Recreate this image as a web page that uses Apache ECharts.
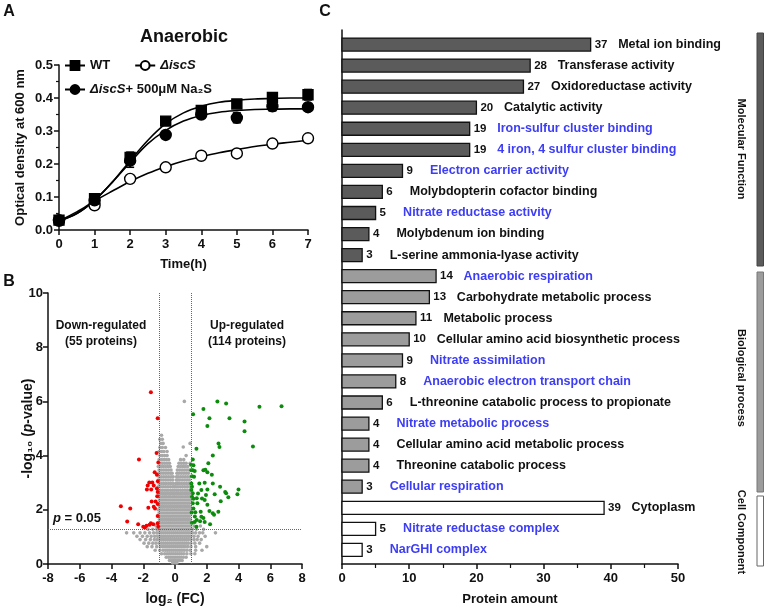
<!DOCTYPE html>
<html><head><meta charset="utf-8">
<script src="https://cdn.jsdelivr.net/npm/echarts@6/dist/echarts.min.js"></script>
<style>html,body{margin:0;padding:0;background:#fff}#c{width:767px;height:609px}</style>
</head><body><div id="c"></div><script>
// ---------- Panel A: growth curves ----------
const timeH = [0,1,2,3,4,5,6,7];
const odWT   = [0.030,0.095,0.220,0.330,0.362,0.382,0.402,0.410];
const odIscS = [0.030,0.075,0.155,0.190,0.225,0.232,0.262,0.278];
const odNa2S = [0.028,0.090,0.210,0.288,0.350,0.340,0.375,0.372];
const errWT   = [0.012,0.008,0.016,0.006,0.008,0.006,0.008,0.016];
const errIscS = [0.005,0.006,0.004,0.004,0.004,0.004,0.004,0.005];
const errNa2S = [0.010,0.006,0.020,0.005,0.008,0.015,0.014,0.006];
const fitTime = [0,0.5,1,1.5,2,2.5,3,3.5,4,4.5,5,5.5,6,6.5,7];
const fitWT   = [0.028,0.050,0.090,0.145,0.210,0.272,0.322,0.355,0.375,0.387,0.393,0.397,0.399,0.400,0.400];
const fitNa2S = [0.028,0.050,0.090,0.145,0.205,0.262,0.302,0.330,0.347,0.357,0.362,0.365,0.366,0.367,0.367];
const fitIscS = [0.028,0.055,0.088,0.118,0.147,0.172,0.192,0.209,0.222,0.234,0.244,0.253,0.260,0.266,0.272];

// ---------- Panel B: volcano ----------
const redPts = [[-1.52,6.34],[-1.09,5.38],[-1.16,4.10],[-2.27,3.86],[-1.05,3.75],[-1.28,3.39],[-1.14,3.29],
 [-1.62,3.01],[-1.43,3.01],[-1.72,2.90],[-1.34,2.90],[-1.77,2.75],[-1.50,2.75],[-1.14,2.79],[-1.09,2.66],
 [-1.47,2.31],[-1.22,2.31],[-1.68,2.08],[-1.34,2.11],[-3.41,2.13],[-2.82,2.05],[-1.09,2.21],[-1.26,2.05],
 [-1.09,1.77],[-3.01,1.57],[-2.32,1.47],[-1.52,1.50],[-1.37,1.47],[-2.00,1.37],[-1.79,1.41],[-1.09,1.50],
 [-1.05,1.37],[-1.90,1.35],[-1.60,1.45],[-1.12,2.50],[-1.08,3.05]];
const greenPts = [[2.67,6.00],[3.22,5.92],[1.79,5.72],[1.14,5.53],[2.17,5.38],[3.43,5.38],[2.04,5.09],[4.38,5.26],
 [4.38,4.90],[5.32,5.80],[6.71,5.82],[4.91,4.34],[2.74,4.45],[2.80,4.32],[1.35,4.25],[2.38,4.00],[1.12,3.86],
 [2.10,3.72],[1.01,3.66],[1.16,3.64],[1.24,3.43],[1.12,3.46],[1.79,3.46],[1.91,3.48],[2.04,3.39],[2.32,3.29],
 [1.20,3.22],[1.53,2.97],[1.87,3.00],[2.38,2.97],[2.84,2.85],[4.00,2.75],[3.16,2.66],[3.22,2.61],[1.03,2.73],
 [1.12,2.61],[1.66,2.73],[2.04,2.75],[2.50,2.57],[3.93,2.57],[3.36,2.46],[1.16,2.41],[1.37,2.43],[1.70,2.42],
 [1.87,2.36],[2.88,2.32],[1.12,2.24],[1.41,2.24],[2.04,2.19],[2.17,1.96],[2.38,1.87],[2.46,1.82],[2.73,1.93],
 [1.28,1.91],[1.62,1.93],[1.66,1.74],[1.79,1.70],[1.37,1.62],[1.58,1.58],[1.07,1.52],[1.24,1.55],[2.21,1.47],
 [1.87,1.55],[1.35,1.37],[1.03,3.46],[1.07,3.24],[1.03,2.97],[1.07,2.85],[1.07,2.48],[1.16,2.05],[1.05,1.90],
 [1.45,2.60],[1.95,2.55],[1.25,1.75]];
const grayRows = [
 [6.00,[0.59]],[4.75,[-0.85]],[4.60,[-0.95,-0.8]],[4.45,[-0.9,-0.75,0.95]],[4.32,[0.52]],
 [4.30,[-0.95,-0.8,-0.6]],[4.15,[-1.0,-0.85,-0.7,-0.5]],[4.00,[-0.95,-0.8,-0.65,-0.5,0.7]],
 [3.85,[-1.0,-0.85,-0.7,-0.55,-0.4,0.35,0.55]],
 [3.72,[-0.95,-0.8,-0.65,-0.5,-0.35,0.25,0.4,0.55,0.7,0.95]],
 [3.60,[-1.05,-0.9,-0.75,-0.6,-0.45,-0.3,0.2,0.35,0.5,0.65,0.8]],
 [3.47,[-1.0,-0.85,-0.7,-0.55,-0.4,-0.25,0.15,0.3,0.45,0.6,0.75,0.9]],
 [3.35,[-1.05,-0.9,-0.75,-0.6,-0.45,-0.3,-0.18,0.12,0.25,0.4,0.55,0.7,0.85]],
 [3.22,[-1.0,-0.85,-0.7,-0.55,-0.4,-0.25,-0.12,0.1,0.2,0.35,0.5,0.65,0.8,0.95]],
 [3.10,[-1.05,-0.9,-0.75,-0.6,-0.45,-0.3,-0.15,0.08,0.18,0.3,0.45,0.6,0.75,0.9]],
 [2.97,[-1.0,-0.85,-0.7,-0.55,-0.4,-0.25,-0.1,0.06,0.15,0.25,0.4,0.55,0.7,0.85,1.0]],
 [2.85,[-1.05,-0.9,-0.75,-0.6,-0.45,-0.3,-0.15,-0.05,0.05,0.18,0.32,0.47,0.62,0.77,0.92]],
 [2.72,[-1.05,-0.92,-0.8,-0.66,-0.53,-0.41,-0.27,-0.15,-0.03,0.1,0.22,0.36,0.49,0.63,0.76,0.9]],
 [2.60,[-0.99,-0.86,-0.73,-0.6,-0.47,-0.34,-0.21,-0.08,0.05,0.17,0.3,0.43,0.57,0.7,0.83,0.96]],
 [2.48,[-1.06,-0.93,-0.79,-0.66,-0.54,-0.4,-0.28,-0.14,-0.02,0.11,0.24,0.37,0.5,0.64,0.77,0.9]],
 [2.36,[-0.98,-0.85,-0.72,-0.59,-0.46,-0.33,-0.2,-0.07,0.06,0.19,0.32,0.45,0.58,0.71,0.84,0.97]],
 [2.24,[-1.05,-0.92,-0.79,-0.66,-0.53,-0.4,-0.27,-0.14,-0.01,0.12,0.25,0.38,0.51,0.64,0.77,0.9]],
 [2.12,[-0.99,-0.86,-0.73,-0.6,-0.47,-0.34,-0.21,-0.08,0.05,0.18,0.31,0.44,0.57,0.7,0.83,0.96]],
 [2.00,[-1.06,-0.92,-0.8,-0.67,-0.53,-0.41,-0.28,-0.15,-0.02,0.11,0.24,0.37,0.5,0.63,0.76,0.89,1.0]],
 [1.88,[-1.0,-0.86,-0.73,-0.6,-0.47,-0.34,-0.21,-0.08,0.05,0.18,0.31,0.44,0.57,0.7,0.83,0.96]],
 [1.76,[-1.05,-0.92,-0.79,-0.66,-0.53,-0.4,-0.27,-0.14,-0.01,0.12,0.25,0.38,0.51,0.64,0.77,0.9]],
 [1.64,[-0.98,-0.85,-0.72,-0.59,-0.46,-0.33,-0.2,-0.07,0.06,0.19,0.32,0.45,0.58,0.71,0.84,0.97]],
 [1.52,[-1.05,-0.92,-0.79,-0.66,-0.53,-0.4,-0.27,-0.14,-0.01,0.12,0.25,0.38,0.51,0.64,0.77,0.9,1.03]],
 [1.40,[-1.2,-0.99,-0.86,-0.73,-0.6,-0.47,-0.34,-0.21,-0.08,0.05,0.18,0.31,0.44,0.57,0.7,0.83,0.96,1.2,1.6]],
 [1.28,[-1.7,-1.4,-1.15,-1.02,-0.9,-0.77,-0.64,-0.51,-0.38,-0.25,-0.12,0.01,0.14,0.27,0.4,0.53,0.66,0.79,0.92,1.1,1.35,1.8]],
 [1.15,[-3.05,-2.6,-2.2,-1.9,-1.6,-1.35,-1.15,-1.0,-0.87,-0.74,-0.61,-0.48,-0.35,-0.22,-0.09,0.04,0.17,0.3,0.43,0.56,0.69,0.82,0.95,1.1,1.3,1.55,1.75,2.55]],
 [1.02,[-2.4,-2.05,-1.75,-1.5,-1.28,-1.1,-0.95,-0.82,-0.69,-0.56,-0.43,-0.3,-0.17,-0.04,0.09,0.22,0.35,0.48,0.61,0.74,0.87,1.0,1.2,1.45,1.9]],
 [0.90,[-2.2,-1.85,-1.55,-1.3,-1.12,-0.97,-0.84,-0.71,-0.58,-0.45,-0.32,-0.19,-0.06,0.07,0.2,0.33,0.46,0.59,0.72,0.85,1.0,1.2,1.4,1.65]],
 [0.77,[-1.95,-1.65,-1.4,-1.2,-1.0,-0.86,-0.73,-0.6,-0.47,-0.34,-0.21,-0.08,0.05,0.18,0.31,0.44,0.57,0.7,0.83,1.0,1.25,1.55]],
 [0.64,[-1.75,-1.45,-1.15,-0.92,-0.78,-0.65,-0.52,-0.39,-0.26,-0.13,0.0,0.13,0.26,0.39,0.52,0.65,0.8,1.0,1.3,2.0]],
 [0.51,[-1.25,-0.95,-0.75,-0.6,-0.47,-0.34,-0.21,-0.08,0.05,0.18,0.31,0.44,0.58,0.75,0.95,1.3,1.7]],
 [0.38,[-0.85,-0.65,-0.5,-0.37,-0.24,-0.11,0.02,0.15,0.28,0.41,0.56,0.75,1.0,1.25]],
 [0.25,[-0.55,-0.4,-0.27,-0.14,-0.01,0.12,0.25,0.38,0.52,0.7]],
 [0.13,[-0.35,-0.22,-0.09,0.04,0.17,0.3,0.45]],
 [0.04,[-0.15,0.0,0.12]]
];
const pCutoff = 1.3, fcLow = -1, fcHigh = 1;

// ---------- Panel C: GO bars ----------
const goTerms = ['Metal ion binding','Transferase activity','Oxidoreductase activity','Catalytic activity',
 'Iron-sulfur cluster binding','4 iron, 4 sulfur cluster binding','Electron carrier activity',
 'Molybdopterin cofactor binding','Nitrate reductase activity','Molybdenum ion binding',
 'L-serine ammonia-lyase activity','Anaerobic respiration','Carbohydrate metabolic process','Metabolic process',
 'Cellular amino acid biosynthetic process','Nitrate assimilation','Anaerobic electron transport chain',
 'L-threonine catabolic process to propionate','Nitrate metabolic process','Cellular amino acid metabolic process',
 'Threonine catabolic process','Cellular respiration','Cytoplasm','Nitrate reductase complex','NarGHI complex'];
const goCounts = [37,28,27,20,19,19,9,6,5,4,3,14,13,11,10,9,8,6,4,4,4,3,39,5,3];
const goGroup = ['MF','MF','MF','MF','MF','MF','MF','MF','MF','MF','MF',
 'BP','BP','BP','BP','BP','BP','BP','BP','BP','BP','BP','CC','CC','CC'];
const goHighlight = [0,0,0,0,1,1,1,0,1,0,0,1,0,0,0,1,1,0,1,0,0,1,0,1,1];

// ---------- styles ----------
const FONT = '"Liberation Sans", Arial, Helvetica, sans-serif';
const BLUE = '#3d3df5';
const groupFill = {MF:'#5b5b5b', BP:'#9c9c9c', CC:'#ffffff'};
const axisCommon = {
  nameMoveOverlap:false,
  axisLine:{show:true, onZero:false, lineStyle:{color:'#111', width:1.5}},
  axisTick:{show:true, length:5, lineStyle:{color:'#111', width:1.5}},
  axisLabel:{color:'#111', fontWeight:'bold', fontSize:13, fontFamily:FONT},
  splitLine:{show:false},
  nameTextStyle:{color:'#111', fontWeight:'bold', fontSize:13, fontFamily:FONT}
};
function ax(o){ return Object.assign({}, JSON.parse(JSON.stringify(axisCommon)), o); }

const zip = (xs, ys) => xs.map((x,i)=>[x, ys[i]]);
const grayPts = [];
grayRows.forEach(r => r[1].forEach(x => grayPts.push([x, r[0]])));

function errSeries(vals, errs){
  return {
    type:'custom', xAxisIndex:0, yAxisIndex:0, z:3, silent:true,
    data: timeH.map((t,i)=>[t, vals[i], errs[i]]),
    renderItem(params, api){
      const x = api.value(0), y = api.value(1), e = api.value(2);
      const hi = api.coord([x, y+e]), lo = api.coord([x, y-e]);
      const st = {stroke:'#000', lineWidth:1.5};
      return {type:'group', children:[
        {type:'line', shape:{x1:hi[0],y1:hi[1],x2:lo[0],y2:lo[1]}, style:st},
        {type:'line', shape:{x1:hi[0]-4,y1:hi[1],x2:hi[0]+4,y2:hi[1]}, style:st},
        {type:'line', shape:{x1:lo[0]-4,y1:lo[1],x2:lo[0]+4,y2:lo[1]}, style:st}
      ]};
    }
  };
}
function fitSeries(ys){
  return {type:'line', xAxisIndex:0, yAxisIndex:0, smooth:0.35, showSymbol:false, silent:true, z:2,
    data: zip(fitTime, ys), lineStyle:{color:'#000', width:1.6}};
}
function ptSeries(ys, symbol, fill){
  return {type:'scatter', xAxisIndex:0, yAxisIndex:0, z:4, symbol, symbolSize: symbol==='rect'?10:11,
    data: zip(timeH, ys), itemStyle:{color:fill, borderColor:'#000', borderWidth:1.4, opacity:1}};
}
function legendSeries(name, symbol, fill){
  return {type:'line', name, xAxisIndex:0, yAxisIndex:0, data:[], symbol, symbolSize:10,
    itemStyle:{color:fill, borderColor:'#000', borderWidth:1.4}, lineStyle:{color:'#000', width:1.6}};
}

const chart = echarts.init(document.getElementById('c'), null, {renderer:'canvas'});
const legendText = {color:'#111', fontWeight:'bold', fontSize:13, fontFamily:FONT,
  rich:{i:{fontStyle:'italic', fontWeight:'bold', fontSize:13, fontFamily:FONT, color:'#111'},
        n:{fontWeight:'bold', fontSize:13, fontFamily:FONT, color:'#111'}}};
const legendFmt = n => n==='WT' ? 'WT' : (n==='ΔiscS' ? '{i|ΔiscS}' : '{i|ΔiscS}{n|+ 500μM Na₂S}');

const option = {
  animation:false,
  backgroundColor:'#fff',
  textStyle:{fontFamily:FONT},
  grid:[
    {left:59, top:65, width:249, height:165, outerBoundsMode:'none', containLabel:false},
    {left:48, top:293, width:254, height:271, outerBoundsMode:'none', containLabel:false},
    {left:342, top:30, width:336, height:534, outerBoundsMode:'none', containLabel:false}
  ],
  legend:[
    {left:64, top:59, itemWidth:20, itemHeight:11, itemGap:24, data:['WT','ΔiscS'], textStyle:legendText,
      formatter:legendFmt, selectedMode:false, padding:0},
    {left:64, top:83, itemWidth:20, itemHeight:11, data:['ΔiscS+ 500μM Na₂S'], textStyle:legendText,
      formatter:legendFmt, selectedMode:false, padding:0}
  ],
  xAxis:[
    ax({gridIndex:0, type:'value', min:0, max:7, interval:1, name:'Time(h)', nameLocation:'middle', nameGap:28}),
    ax({gridIndex:1, type:'value', min:-8, max:8, interval:2, name:'log₂ (FC)', nameLocation:'middle', nameGap:28,
        nameTextStyle:{color:'#111', fontWeight:'bold', fontSize:14, fontFamily:FONT}}),
    ax({gridIndex:2, type:'value', min:0, max:50, interval:10, name:'Protein amount', nameLocation:'middle', nameGap:29,
        minorTick:{show:true, splitNumber:2, length:4, lineStyle:{color:'#111', width:1.2}}})
  ],
  yAxis:[
    ax({gridIndex:0, type:'value', min:0, max:0.5, interval:0.1, name:'Optical density at 600 nm', nameLocation:'middle', nameGap:32,
        axisLabel:{color:'#111', fontWeight:'bold', fontSize:13, fontFamily:FONT, margin:6, formatter:v=>v.toFixed(1)},
        minorTick:{show:true, splitNumber:2, length:3, lineStyle:{color:'#111', width:1.2}}}),
    ax({gridIndex:1, type:'value', min:0, max:10, interval:2, name:'-log₁₀ ({i|p}-value)', nameLocation:'middle', nameGap:13,
        axisLabel:{color:'#111', fontWeight:'bold', fontSize:13, fontFamily:FONT, margin:5},
        nameTextStyle:{color:'#111', fontWeight:'bold', fontSize:14, fontFamily:FONT,
          rich:{i:{fontStyle:'italic', fontWeight:'bold', fontSize:14, fontFamily:FONT, color:'#111'}}}}),
    ax({gridIndex:2, type:'value', inverse:true, min:-0.69, max:24.67, axisTick:{show:false}, axisLabel:{show:false}})
  ],
  graphic:[
    {type:'text', x:9, y:12, style:{text:'A', font:'bold 16px '+FONT, fill:'#111', align:'center', verticalAlign:'middle'}},
    {type:'text', x:9, y:282, style:{text:'B', font:'bold 16px '+FONT, fill:'#111', align:'center', verticalAlign:'middle'}},
    {type:'text', x:325, y:12, style:{text:'C', font:'bold 16px '+FONT, fill:'#111', align:'center', verticalAlign:'middle'}},
    {type:'text', x:184, y:37, style:{text:'Anaerobic', font:'bold 18px '+FONT, fill:'#111', align:'center', verticalAlign:'middle'}},
    {type:'text', x:101, y:326, style:{text:'Down-regulated', font:'bold 12px '+FONT, fill:'#111', align:'center', verticalAlign:'middle'}},
    {type:'text', x:101, y:342, style:{text:'(55 proteins)', font:'bold 12px '+FONT, fill:'#111', align:'center', verticalAlign:'middle'}},
    {type:'text', x:247, y:326, style:{text:'Up-regulated', font:'bold 12px '+FONT, fill:'#111', align:'center', verticalAlign:'middle'}},
    {type:'text', x:247, y:342, style:{text:'(114 proteins)', font:'bold 12px '+FONT, fill:'#111', align:'center', verticalAlign:'middle'}},
    {type:'text', x:53, y:518, style:{text:'{i|p} = 0.05', font:'bold 13px '+FONT, fill:'#111', align:'left', verticalAlign:'middle',
      rich:{i:{fontStyle:'italic', fontWeight:'bold', fontSize:13, fontFamily:FONT, fill:'#111'}}}},
    {type:'rect', shape:{x:757, y:33, width:6.5, height:233}, style:{fill:'#5b5b5b', stroke:'#444', lineWidth:1}},
    {type:'rect', shape:{x:757, y:272, width:6.5, height:220}, style:{fill:'#9c9c9c', stroke:'#777', lineWidth:1}},
    {type:'rect', shape:{x:757, y:496, width:6.5, height:70}, style:{fill:'#fff', stroke:'#666', lineWidth:1}},
    {type:'text', x:741, y:149, rotation:-Math.PI/2, style:{text:'Molecular Function', font:'bold 11px '+FONT, fill:'#111', align:'center', verticalAlign:'middle'}},
    {type:'text', x:741, y:378, rotation:-Math.PI/2, style:{text:'Biological process', font:'bold 11px '+FONT, fill:'#111', align:'center', verticalAlign:'middle'}},
    {type:'text', x:741, y:532, rotation:-Math.PI/2, style:{text:'Cell Component', font:'bold 11px '+FONT, fill:'#111', align:'center', verticalAlign:'middle'}}
  ],
  series:[
    legendSeries('WT','rect','#000'),
    legendSeries('ΔiscS','circle','#fff'),
    legendSeries('ΔiscS+ 500μM Na₂S','circle','#000'),
    fitSeries(fitWT), fitSeries(fitNa2S), fitSeries(fitIscS),
    errSeries(odWT, errWT), errSeries(odNa2S, errNa2S), errSeries(odIscS, errIscS),
    ptSeries(odIscS,'circle','#fff'), ptSeries(odNa2S,'circle','#000'), ptSeries(odWT,'rect','#000'),
    {type:'scatter', xAxisIndex:1, yAxisIndex:1, data:grayPts, symbolSize:3.6, silent:true,
      itemStyle:{color:'#a8a8a8', opacity:1},
      markLine:{silent:true, symbol:'none', label:{show:false}, animation:false,
        lineStyle:{type:'dotted', color:'#666', width:1},
        data:[{xAxis:fcLow},{xAxis:fcHigh},{yAxis:pCutoff}]}},
    {type:'scatter', xAxisIndex:1, yAxisIndex:1, data:redPts, symbolSize:4, silent:true, itemStyle:{color:'#f00000', opacity:1}},
    {type:'scatter', xAxisIndex:1, yAxisIndex:1, data:greenPts, symbolSize:4, silent:true, itemStyle:{color:'#0c8c0c', opacity:1}},
    {type:'custom', xAxisIndex:2, yAxisIndex:2, silent:true, clip:false,
      data: goCounts.map((v,i)=>[v,i]),
      renderItem(params, api){
        const i = params.dataIndex;
        const v = api.value(0), idx = api.value(1);
        const s = api.coord([0, idx]), e = api.coord([v, idx]);
        const h = 13;
        return {type:'group', children:[
          {type:'rect', shape:{x:s[0], y:s[1]-h/2, width:e[0]-s[0], height:h},
            style:{fill:groupFill[goGroup[i]], stroke:'#111', lineWidth:1.3}},
          {type:'text', x:e[0]+4, y:e[1], style:{text:String(goCounts[i]), font:'bold 11.5px '+FONT, fill:'#111', align:'left', verticalAlign:'middle'}},
          {type:'text', x:e[0]+27.5, y:e[1], style:{text:goTerms[i], font:'bold 12.5px '+FONT,
            fill: goHighlight[i] ? BLUE : '#111', align:'left', verticalAlign:'middle'}}
        ]};
      }}
  ]
};
chart.setOption(option);
</script></body></html>
